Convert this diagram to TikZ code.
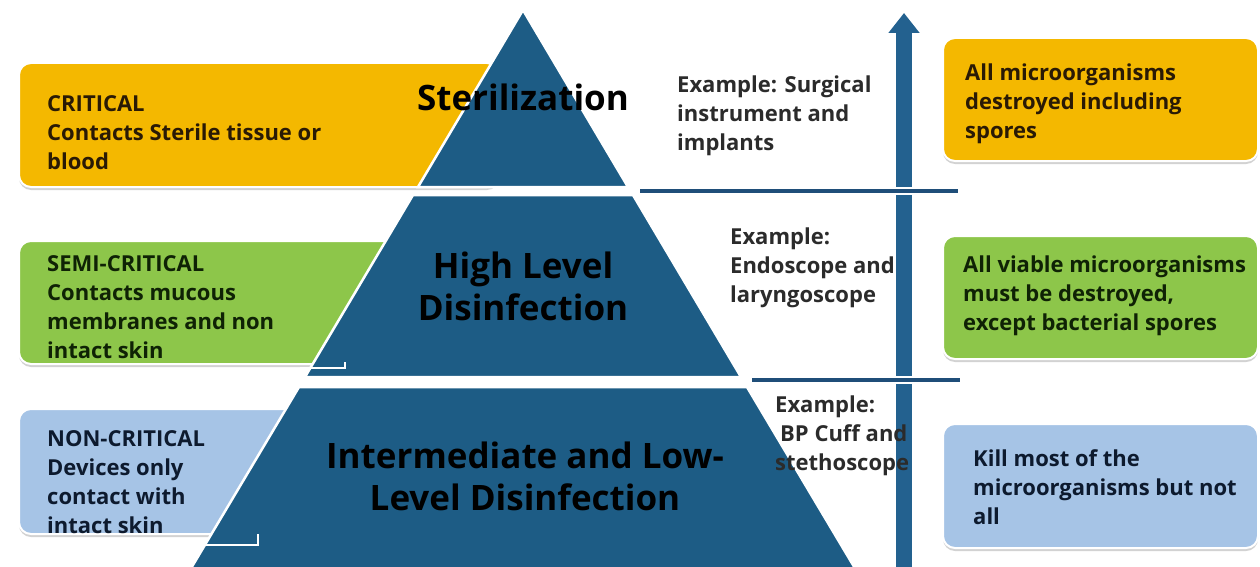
\documentclass[tikz,border=0pt]{standalone}
\usepackage{fontspec}
\setmainfont{Open Sans}
\usetikzlibrary{arrows.meta,shadows}
\usepackage{xcolor}
\definecolor{critfill}{HTML}{F4B800}
\definecolor{semifill}{HTML}{8DC64A}
\definecolor{nonfill}{HTML}{A6C4E6}
\definecolor{pyrblue}{HTML}{1D5C85}
\definecolor{arrowblue}{HTML}{23618F}
\definecolor{lineblue}{HTML}{1F4E79}
\definecolor{critink}{HTML}{2A1A05}
\definecolor{semiink}{HTML}{0F2205}
\definecolor{nonink}{HTML}{0D1A2E}
\definecolor{exink}{HTML}{2B2B2B}

\begin{document}
\begin{tikzpicture}[x=1pt, y=-1pt,
	box/.style={rounded corners=12pt, draw=white, line width=2pt, anchor=north west, inner sep=0pt,
		drop shadow={shadow xshift=0pt, shadow yshift=-3pt, opacity=0.35}},
	lbl/.style={anchor=west, align=left, inner sep=0pt, font=\bfseries\fontsize{22}{29}\selectfont},
	ex/.style={lbl, text=exink, font=\bfseries\fontsize{22}{29}\selectfont},
	tier/.style={fill=pyrblue, draw=white, line width=2.5pt},
	title/.style={align=center, inner sep=0pt, text=black, font=\bfseries\fontsize{35}{42}\selectfont}]
	\useasboundingbox[fill=white] (0,0) rectangle (1260,567);

	\node (crit) [box, fill=critfill, minimum width=480pt, minimum height=124pt] at (18,62) {};
	\node (semi) [box, fill=semifill, minimum width=377pt, minimum height=123pt] at (18,240) {};
	\node (non) [box, fill=nonfill, minimum width=277pt, minimum height=125pt] at (18,408) {};
	\node (allkill) [box, fill=critfill, minimum width=315pt, minimum height=123pt] at (942,37) {};
	\node (highkill) [box, fill=semifill, minimum width=315pt, minimum height=123pt] at (942,235) {};
	\node (lowkill) [box, fill=nonfill, minimum width=315pt, minimum height=124pt] at (942,423) {};

	\draw[tier] (523,10) -- (418,187) -- (628,187) -- cycle;
	\draw[tier] (413,195) -- (633,195) -- (741,377) -- (305,377) -- cycle;
	\draw[tier] (299,387) -- (747,387) -- (856,570) -- (190,570) -- cycle;
	\draw[white, line width=2pt] (300,368) -| (345,362);
	\draw[white, line width=2pt] (205,545) -| (258,534);

	\coordinate (abot) at (904,570);
	\coordinate (atop) at (904,13);
	\draw[line width=21pt, draw=white, -{Triangle[length=24pt, width=36pt]}] (abot) -- ([yshift=-2pt]atop);
	\draw[line width=16pt, draw=arrowblue, -{Triangle[length=20pt, width=30pt]}] (abot) -- (atop);

	\coordinate (sep1a) at (640,191);
	\coordinate (sep1b) at (958,191);
	\coordinate (sep2a) at (752,380);
	\coordinate (sep2b) at (960,380);
	\draw[white, line width=8pt] (sep1a) -- (sep1b);
	\draw[lineblue, line width=4pt] (sep1a) -- (sep1b);
	\draw[white, line width=8pt] (sep2a) -- (sep2b);
	\draw[lineblue, line width=4pt] (sep2a) -- (sep2b);

	\node (critlbl) [lbl, text=critink] at (47,133) {CRITICAL\\Contacts Sterile tissue or\\blood};
	\node (semilbl) [lbl, text=semiink] at (47,307) {SEMI-CRITICAL\\Contacts mucous\\membranes and non\\intact skin};
	\node (nonlbl) [lbl, text=nonink] at (47,482) {NON-CRITICAL\\Devices only\\contact with\\intact skin};

	\node (steril) [title] at (523,97) {Sterilization};
	\node (hld) [title] at (523,286) {High Level\\Disinfection};
	\node (ild) [title] at (525,476) {Intermediate and Low-\\Level Disinfection};

	\node (ex1) [ex] at (677,116) {Example: Surgical\\instrument and\\implants};
	\node (ex2) [ex] at (730,268) {Example:\\Endoscope and\\laryngoscope};
	\node (ex3) [ex] at (775,436) {Example:\\\hspace*{5pt}BP Cuff and\\stethoscope};

	\node (alllbl) [lbl, text=critink] at (965,104) {All microorganisms\\destroyed including\\spores};
	\node (highlbl) [lbl, text=semiink] at (963,296) {All viable microorganisms\\must be destroyed,\\except bacterial spores};
	\node (lowlbl) [lbl, text=nonink] at (973,487) {Kill most of the\\microorganisms but not\\all};
\end{tikzpicture}
\end{document}
